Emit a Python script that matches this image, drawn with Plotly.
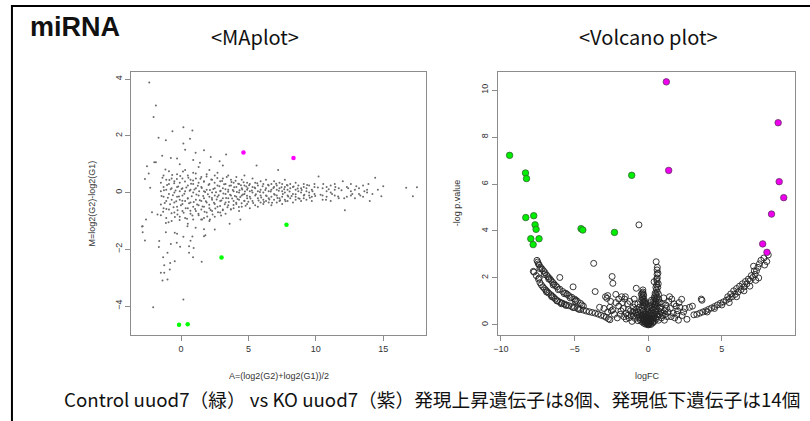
import plotly.graph_objects as go

# ---------------- MA plot data ----------------
ma_sparse = [(-2.36, 3.88), (-1.87, 3.07), (-2.04, 2.66), (-1.67, 1.93), (-0.64, 2.16), (0.17, 2.3),
             (0.84, 2.19), (-1.13, 1.84), (0.17, 1.73), (0.66, 1.9), (1.7, 1.49), (3.34, 1.34),
             (2.86, 1.1), (1.08, 1.4), (0.3, 1.51), (-0.76, 1.22), (-1.99, 1.07), (-1.87, 1.07),
             (-2.53, 0.93), (-2.68, 0.48), (-2.29, 0.17), (-2.4, 0.67), (-0.3, 1.2), (0.9, 1.15),
             (-1.4, 1.3), (2.2, 1.25), (1.4, 1.05), (-0.1, 1.0), (5.6, 0.95), (7.2, 0.8),
             (-2.85, -1.19), (-2.68, -1.69), (-2.85, -1.4), (-1.62, -1.71), (-1.65, -1.92), (-1.01, -2.12),
             (-1.33, -2.28), (-0.81, -2.48), (-0.47, -2.42), (-1.25, -2.56), (-1.5, -2.83), (-1.25, -2.83),
             (-0.84, -2.71), (-1.01, -3.06), (-1.38, -3.1), (0.17, -3.77), (-2.07, -4.04), (0.89, -2.28),
             (1.53, -2.44), (0.59, -2.12), (0.59, -1.89), (0.93, -1.95), (-0.07, -1.91), (-0.32, -1.77),
             (-0.76, -1.81), (0.7, -1.7), (1.7, -1.54), (1.8, -1.5), (-0.47, -1.42), (-0.3, -1.45),
             (0.17, -1.56), (0.84, -1.55), (-1.13, -1.4), (-1.13, -1.07), (0.47, -1.19), (1.08, -1.24),
             (1.7, -1.29), (2.14, -0.95), (2.97, -0.81), (1.56, -0.95), (-0.27, -0.77), (-1.75, -0.77),
             (-2.16, -0.69), (-2.6, -0.95), (-2.9, -1.2), (3.6, -1.1), (2.5, -1.3), (4.4, -0.95),
             (12.15, -0.62), (14.0, -0.3), (14.86, -0.13), (15.0, 0.22), (16.7, 0.17), (17.2, -0.13),
             (17.5, 0.19), (14.4, 0.52), (10.2, 0.57), (12.0, 0.4)]

ma_band = [(-1.5, [0.35, -0.42, 0.05, -0.8]), (-1.3, [0.6, -0.15, -0.55, 0.2]),
           (-1.1, [-0.9, 0.1, 0.45, -0.3]), (-0.9, [0.75, -0.6, -0.05, 0.3]),
           (-0.7, [-0.25, 0.5, -1.0, 0.15]), (-0.5, [0.0, -0.7, 0.4, -0.35]),
           (-0.3, [0.65, -0.15, -0.5, 0.2]), (-0.1, [-0.85, 0.35, -0.25, 0.05]),
           (0.1, [0.5, -0.4, 0.15, -0.65, -0.1]), (0.3, [-0.3, 0.8, -0.9, 0.05]),
           (0.5, [0.25, -0.55, -0.2, 0.6, -1.1]), (0.7, [-0.75, 0.1, 0.45, -0.35]),
           (0.9, [0.0, -0.5, 0.7, -0.95, 0.3]), (1.1, [-0.25, 0.5, -0.65, 0.15]),
           (1.3, [0.35, -0.8, -0.1, 0.9, -0.45]), (1.5, [-0.3, 0.2, -0.6, 0.55]),
           (1.7, [0.05, -0.9, 0.4, -0.2, -0.5]), (1.9, [0.65, -0.35, 0.1, -0.7]),
           (2.1, [-0.15, 0.3, -0.55, 0.8, -1.0]), (2.3, [0.45, -0.25, 0.0, -0.65]),
           (2.5, [-0.4, 0.15, 0.6, -0.85, -0.1]), (2.7, [0.25, -0.5, -0.15, 0.7]),
           (2.9, [-0.7, 0.05, 0.4, -0.3]), (3.1, [0.5, -0.2, -0.6, 0.15, 0.95]),
           (3.3, [-0.35, 0.3, -0.05, -0.75]), (3.5, [0.1, -0.45, 0.6, -0.2]),
           (3.7, [-0.6, 0.25, -0.1, 0.45]), (3.9, [0.35, -0.3, 0.05, -0.55]),
           (4.1, [-0.15, 0.55, -0.4, 0.2]), (4.3, [0.0, -0.65, 0.3, -0.25]),
           (4.5, [0.45, -0.1, -0.5, 0.15]), (4.7, [-0.3, 0.25, 0.6, -0.05]),
           (4.9, [0.1, -0.4, 0.35, -0.2]), (5.1, [-0.55, 0.05, 0.3, -0.15]),
           (5.3, [0.2, -0.3, 0.5, 0.0]), (5.5, [-0.1, 0.35, -0.45, 0.15]),
           (5.7, [0.25, -0.2, 0.05, -0.5]), (5.9, [-0.35, 0.4, 0.1, -0.1]),
           (6.1, [0.0, -0.25, 0.3, -0.4]), (6.3, [0.15, -0.1, 0.45, -0.3]),
           (6.5, [-0.2, 0.25, -0.35, 0.05]), (6.7, [0.3, -0.15, 0.1, -0.45]),
           (6.9, [-0.05, 0.2, -0.25, 0.4]), (7.1, [0.1, -0.35, 0.25, -0.1]),
           (7.3, [-0.2, 0.15, 0.35, -0.3]), (7.5, [0.05, -0.15, 0.3, -0.4]),
           (7.7, [0.2, -0.25, 0.0, 0.45]), (7.9, [-0.1, 0.25, -0.3, 0.1]),
           (8.1, [0.15, -0.2, 0.3]), (8.3, [-0.05, 0.2, -0.35]), (8.5, [0.1, -0.15, 0.35, -0.25]),
           (8.7, [-0.2, 0.05, 0.25]), (8.9, [0.15, -0.3, 0.0]), (9.1, [-0.1, 0.2, -0.2, 0.3]),
           (9.3, [0.05, -0.25, 0.15]), (9.5, [0.25, -0.1, 0.0]), (9.7, [-0.15, 0.1, -0.3]),
           (9.9, [0.2, -0.05, 0.3]), (10.5, [-0.1, 0.15, -0.25]), (10.8, [0.2, -0.15, 0.05]),
           (11.1, [0.0, -0.3, 0.25]), (11.4, [0.1, -0.1, 0.3]), (11.7, [-0.2, 0.15]),
           (12.3, [0.2, -0.15]), (12.6, [0.05, 0.3, -0.1]), (12.9, [-0.2, 0.1]),
           (13.2, [0.15, -0.05]), (13.5, [0.25, -0.15]), (13.8, [0.0, 0.1])]

ma_extra = [(-1.45, -0.12), (-1.38, 0.52), (-1.33, -0.68), (-1.27, 0.08), (-1.21, -0.37), (-1.16, 0.81),
            (-1.09, -0.58), (-1.04, 0.27), (-0.98, -0.18), (-0.93, -1.05), (-0.87, 0.44), (-0.82, -0.41),
            (-0.77, 0.12), (-0.71, -0.73), (-0.66, 0.62), (-0.61, -0.09), (-0.56, -0.52), (-0.51, 0.33),
            (-0.46, -0.86), (-0.41, 0.07), (-0.36, -0.31), (-0.31, 0.48), (-0.26, -0.62), (-0.21, 0.21),
            (-0.16, -0.14), (-0.11, -0.97), (-0.06, 0.58), (-0.01, -0.45), (0.04, 0.13), (0.09, -0.29),
            (0.14, 0.74), (0.19, -0.71), (0.24, -0.04), (0.29, 0.39), (0.34, -0.55), (0.39, 0.18),
            (0.44, -0.92), (0.49, -0.21), (0.54, 0.52), (0.59, -0.38), (0.64, 0.06), (0.69, -0.64),
            (0.74, 0.31), (0.79, -0.13), (0.84, -0.81), (0.89, 0.43), (0.94, -0.33), (0.99, 0.11),
            (1.04, -0.58), (1.09, 0.67), (1.14, -0.07), (1.19, -0.42), (1.24, 0.24), (1.29, -0.75),
            (1.34, 0.05), (1.39, -0.27), (1.44, 0.49), (1.49, -0.95),
            (1.54, 0.16), (1.59, -0.49), (1.64, -0.12), (1.69, 0.38), (1.74, -0.68), (1.79, 0.02),
            (1.84, -0.31), (1.89, 0.57), (1.94, -0.84), (1.99, -0.06), (2.04, 0.27), (2.09, -0.43),
            (2.14, 0.09), (2.19, -0.61), (2.24, 0.46), (2.29, -0.19), (2.34, -0.77), (2.39, 0.13),
            (2.44, -0.36), (2.49, 0.35), (2.54, -0.56), (2.59, 0.01), (2.64, -0.24), (2.69, 0.51),
            (2.74, -0.69), (2.79, -0.09), (2.84, 0.22), (2.89, -0.47), (2.94, 0.06), (2.99, -0.28),
            (3.04, 0.41), (3.09, -0.62), (3.14, -0.03), (3.19, 0.29), (3.24, -0.41), (3.29, 0.12),
            (3.34, -0.19), (3.39, 0.55), (3.44, -0.52), (3.49, 0.03), (3.54, -0.33), (3.59, 0.24),
            (3.64, -0.08), (3.69, -0.59), (3.74, 0.37), (3.79, -0.21), (3.84, 0.09), (3.89, -0.44),
            (3.94, 0.19), (3.99, -0.12), (4.04, 0.42), (4.09, -0.36), (4.14, 0.02), (4.19, -0.23),
            (4.24, 0.31), (4.29, -0.51), (4.34, 0.08), (4.39, -0.16), (4.44, 0.26), (4.49, -0.38),
            (4.54, 0.11), (4.59, -0.07), (4.64, 0.36), (4.69, -0.29), (4.74, 0.04), (4.79, -0.46),
            (4.84, 0.21), (4.89, -0.11), (4.94, 0.15), (4.99, -0.32),
            (5.05, 0.26), (5.15, -0.21), (5.25, 0.07), (5.35, -0.37), (5.45, 0.18), (5.55, -0.06),
            (5.65, 0.33), (5.75, -0.28), (5.85, 0.02), (5.95, -0.17), (6.05, 0.22), (6.15, -0.33),
            (6.25, 0.09), (6.35, -0.12), (6.45, 0.28), (6.55, -0.24), (6.65, 0.04), (6.75, -0.36),
            (6.85, 0.16), (6.95, -0.08), (7.05, 0.31), (7.15, -0.19), (7.25, 0.06), (7.35, -0.27),
            (7.45, 0.19), (7.55, -0.05), (7.65, 0.12), (7.75, -0.31), (7.85, 0.27), (7.95, -0.14),
            (8.05, 0.04), (8.2, -0.12), (8.35, 0.21), (8.5, -0.06), (8.65, 0.14), (8.8, -0.22),
            (8.95, 0.09), (9.15, -0.08), (9.35, 0.27), (9.55, -0.18), (9.75, 0.05), (9.95, -0.12),
            (10.15, 0.18), (10.35, -0.08), (10.55, 0.3), (10.75, -0.25), (10.95, 0.12), (11.2, -0.05),
            (11.45, 0.2), (11.65, -0.14), (11.9, 0.08), (12.1, -0.2), (12.4, 0.15), (12.7, -0.05),
            (13.0, 0.22), (13.3, -0.1), (13.6, 0.05), (13.9, 0.3), (14.2, -0.05), (14.6, 0.1)]

ma_green = [(-0.15, -4.66), (0.49, -4.64), (3.0, -2.29), (7.82, -1.13)]
ma_magenta = [(4.63, 1.41), (8.34, 1.22)]

# ---------------- Volcano plot data ----------------
vol_left_upper = [(-7.55, 2.75), (-7.5, 2.68), (-7.45, 2.6), (-7.4, 2.55), (-7.3, 2.45), (-7.2, 2.38),
                  (-7.1, 2.3), (-7.0, 2.22), (-6.9, 2.12), (-6.8, 2.05), (-6.7, 1.98), (-6.6, 1.9),
                  (-6.5, 1.82), (-6.4, 1.75), (-6.3, 1.68), (-6.2, 1.62), (-6.0, 1.52), (-5.8, 1.42),
                  (-5.6, 1.35), (-5.5, 1.3), (-5.4, 1.25), (-5.2, 1.18), (-5.0, 1.1), (-4.9, 1.05),
                  (-4.8, 1.0), (-4.6, 0.92), (-4.5, 0.85), (-7.35, 2.4), (-7.05, 2.15), (-6.75, 1.95),
                  (-6.45, 1.7), (-6.1, 1.5), (-5.7, 1.33), (-5.3, 1.15), (-4.95, 1.0), (-4.4, 0.8)]
vol_left_lower = [(-7.8, 2.28), (-7.6, 2.1), (-7.45, 1.95), (-7.35, 1.8), (-7.25, 1.7), (-7.15, 1.62),
                  (-7.05, 1.55), (-6.95, 1.48), (-6.85, 1.42), (-6.75, 1.35), (-6.6, 1.28), (-6.5, 1.22),
                  (-6.4, 1.16), (-6.3, 1.1), (-6.15, 1.03), (-6.0, 0.97), (-5.85, 0.93), (-5.7, 0.89),
                  (-5.55, 0.85), (-5.4, 0.82), (-5.2, 0.78), (-5.0, 0.74), (-4.8, 0.7), (-4.6, 0.66),
                  (-4.4, 0.63), (-4.2, 0.59), (-4.0, 0.56), (-3.8, 0.53), (-3.6, 0.5), (-3.4, 0.46),
                  (-3.2, 0.41), (-3.0, 0.37), (-2.85, 0.32), (-2.7, 0.26), (-2.6, 0.22), (-6.9, 1.4),
                  (-6.55, 1.2), (-6.2, 1.02), (-5.9, 0.9), (-5.6, 0.83), (-5.1, 0.74), (-4.7, 0.66)]
vol_scatter = [(-6.0, 2.02), (-5.1, 1.62), (-3.7, 2.62), (-3.6, 1.42), (-2.45, 2.06), (-2.4, 1.77),
               (-2.9, 1.2), (-2.8, 1.13), (-2.75, 1.25), (-0.63, 4.26), (-3.0, 0.7), (-2.5, 0.6),
               (-7.75, 2.25), (-7.4, 2.0), (3.6, 1.1), (3.65, 1.05), (2.63, 0.24), (3.0, 0.8),
               (2.8, 0.75), (2.27, 1.09)]
vol_center = [(0, 0), (0.05, 0.02), (-0.05, 0.03), (0.1, 0.05), (-0.1, 0.06), (0.15, 0.1), (-0.15, 0.08),
              (0.2, 0.14), (-0.2, 0.12), (0.25, 0.2), (-0.25, 0.18), (0.3, 0.25), (-0.3, 0.22), (0.35, 0.3),
              (-0.35, 0.28), (0.4, 0.38), (-0.4, 0.34), (0.45, 0.45), (-0.45, 0.4), (0.5, 0.55),
              (-0.5, 0.48), (0.0, 0.15), (0.05, 0.25), (-0.05, 0.3), (0.1, 0.35), (-0.1, 0.4),
              (0.15, 0.5), (-0.15, 0.45), (0.2, 0.6), (-0.2, 0.55), (0.0, 0.1), (0.08, 0.18),
              (-0.08, 0.2), (0.12, 0.28), (-0.12, 0.25), (0.25, 0.4), (-0.25, 0.38), (0.3, 0.5),
              (-0.3, 0.45), (0.35, 0.65), (-0.35, 0.6), (0.4, 0.75), (-0.4, 0.7), (0.45, 0.85),
              (-0.38, 0.85), (0.55, 0.7), (-0.55, 0.62), (0.6, 0.8), (-0.6, 0.75), (0.18, 0.02),
              (-0.18, 0.03), (0.3, 0.08), (-0.3, 0.07), (0.42, 0.15), (-0.42, 0.13), (0.55, 0.25),
              (-0.55, 0.22), (0.65, 0.35), (-0.65, 0.32), (0.75, 0.45), (-0.75, 0.42), (0.85, 0.55),
              (-0.85, 0.5), (0.7, 0.2), (-0.7, 0.18), (0.9, 0.3), (-0.9, 0.28), (1.0, 0.4), (-1.0, 0.38),
              (0.5, 1.0), (0.55, 1.1), (0.6, 1.2), (0.52, 1.3), (0.62, 1.4), (0.56, 1.5), (0.65, 1.6),
              (0.58, 1.7), (0.6, 1.85), (0.4, 1.84), (0.62, 2.0), (0.6, 2.15), (0.6, 2.34), (0.54, 2.69),
              (0.7, 1.3), (0.72, 1.1), (0.68, 0.95), (0.45, 1.15), (0.5, 0.9),
              (-0.35, 1.0), (-0.3, 1.1), (-0.38, 1.2), (-0.33, 1.3), (-0.36, 1.4), (-0.36, 1.49),
              (-0.45, 1.05), (-0.25, 0.95), (-0.81, 1.56),
              (-1.2, 0.6), (-1.4, 0.9), (-1.6, 1.1), (-1.8, 1.2), (-2.0, 0.8), (-1.5, 0.5), (-1.3, 0.3),
              (-1.1, 0.15), (-1.7, 0.7), (-2.2, 0.95), (-2.4, 0.65), (-2.6, 0.75), (-1.9, 0.45),
              (-2.1, 0.3), (-1.0, 0.75), (-1.25, 1.0), (-1.55, 1.2), (-0.95, 1.1), (-1.75, 0.95),
              (1.1, 0.6), (1.2, 0.85), (1.4, 1.0), (1.5, 0.7), (1.3, 0.35), (1.1, 0.2), (1.7, 0.5),
              (1.9, 0.8), (2.0, 0.6), (2.3, 0.4), (1.6, 1.1), (1.8, 0.3), (0.95, 0.9), (1.05, 1.15),
              (2.5, 0.7), (2.1, 0.95), (1.35, 0.55), (0.85, 0.75), (0.8, 0.95), (-0.9, 0.9),
              (-1.05, 0.55), (-0.7, 0.9), (-1.5, 0.25)]
vol_extra = [(0.02, 0.45), (-0.02, 0.55), (0.07, 0.65), (-0.07, 0.7), (0.12, 0.8), (-0.12, 0.85),
             (0.17, 0.95), (-0.17, 0.9), (0.22, 1.05), (-0.22, 1.0), (0.27, 0.75), (-0.27, 0.8),
             (0.32, 0.9), (-0.32, 0.95), (0.37, 1.05), (0.42, 1.2), (0.47, 1.35), (-0.42, 1.15),
             (-0.47, 1.3), (0.03, 0.05), (-0.03, 0.12), (0.22, 0.3), (-0.22, 0.33), (0.33, 0.15),
             (-0.33, 0.16), (0.48, 0.3), (-0.48, 0.28), (0.6, 0.45), (-0.6, 0.42), (0.7, 0.6),
             (-0.7, 0.55), (0.8, 0.7), (-0.8, 0.65), (0.9, 0.5), (-0.95, 0.6), (1.15, 0.45),
             (-1.15, 0.4), (1.25, 0.7), (-1.35, 0.65), (0.62, 2.45), (0.66, 2.2), (0.57, 1.95),
             (0.68, 1.75), (0.52, 1.6), (-0.4, 1.35), (-0.31, 1.25),
             (-2.3, 0.45), (-2.0, 1.1), (-1.85, 0.6), (-2.55, 1.0), (-1.4, 0.4), (-1.65, 0.35),
             (-2.75, 0.55), (-3.3, 0.75), (-2.2, 1.3),
             (1.55, 0.35), (1.95, 0.45), (2.15, 0.75), (2.4, 0.55), (1.45, 1.2), (1.75, 0.9), (2.05, 0.2)]
vol_right = [(3.1, 0.43), (3.3, 0.45), (3.5, 0.5), (3.7, 0.55), (3.9, 0.6), (4.1, 0.66), (4.3, 0.72),
             (4.5, 0.78), (4.7, 0.85), (4.9, 0.92), (5.1, 0.98), (5.3, 1.05), (5.5, 1.12), (5.7, 1.2),
             (5.9, 1.3), (6.1, 1.4), (6.3, 1.5), (6.5, 1.62), (6.7, 1.75), (6.9, 1.88), (7.1, 2.02),
             (7.25, 2.15), (7.35, 2.3), (7.45, 2.45), (7.55, 2.6), (7.65, 2.75), (7.85, 2.85),
             (8.05, 2.7), (8.15, 2.98), (7.9, 2.55), (5.4, 1.2), (5.6, 1.32), (5.8, 1.45), (6.0, 1.55),
             (6.2, 1.65), (6.4, 1.75), (6.6, 1.85), (6.8, 1.95), (7.0, 2.1), (7.2, 2.3), (6.5, 1.45),
             (6.0, 1.2), (5.5, 0.95), (5.0, 0.85), (4.5, 0.7), (4.0, 0.55), (6.9, 1.65), (7.3, 1.9),
             (7.15, 2.5), (7.5, 2.0)]
vol_green = [(-9.41, 7.22), (-8.33, 6.47), (-8.26, 6.23), (-1.12, 6.37), (-8.31, 4.57), (-7.77, 4.65),
             (-7.68, 4.26), (-7.61, 4.07), (-7.97, 3.67), (-7.81, 3.42), (-7.41, 3.67), (-4.56, 4.10),
             (-4.44, 4.04), (-2.29, 3.94)]
vol_magenta = [(1.23, 10.35), (1.39, 6.58), (8.82, 8.61), (8.89, 6.10), (9.20, 5.42), (8.37, 4.72),
               (7.77, 3.45), (8.06, 3.09)]

title_main = "miRNA"
title_ma = "&lt;MAplot&gt;"
title_vol = "&lt;Volcano plot&gt;"
caption = "Control uuod7（緑） vs KO uuod7（紫）発現上昇遺伝子は8個、発現低下遺伝子は14個"
ma_xlabel = "A=(log2(G2)+log2(G1))/2"
ma_ylabel = "M=log2(G2)-log2(G1)"
vol_xlabel = "logFC"
vol_ylabel = "-log p.value"

W, H = 810, 421

ma_x = [p[0] for p in ma_sparse + ma_extra]
ma_y = [p[1] for p in ma_sparse + ma_extra]
for a, ms in ma_band:
    for m in ms:
        ma_x.append(a)
        ma_y.append(m)

vol_gray = vol_left_upper + vol_left_lower + vol_scatter + vol_center + vol_extra + vol_right

fig = go.Figure()
fig.add_trace(go.Scatter(x=ma_x, y=ma_y, mode="markers", xaxis="x", yaxis="y",
                         marker=dict(size=2, color="#6a6a6a"), showlegend=False))
fig.add_trace(go.Scatter(x=[p[0] for p in ma_green], y=[p[1] for p in ma_green], mode="markers",
                         xaxis="x", yaxis="y", marker=dict(size=4.5, color="#00ff00"), showlegend=False))
fig.add_trace(go.Scatter(x=[p[0] for p in ma_magenta], y=[p[1] for p in ma_magenta], mode="markers",
                         xaxis="x", yaxis="y", marker=dict(size=4.5, color="#ff00ff"), showlegend=False))

fig.add_trace(go.Scatter(x=[p[0] for p in vol_gray], y=[p[1] for p in vol_gray], mode="markers",
                         xaxis="x2", yaxis="y2",
                         marker=dict(size=6, symbol="circle-open", color="#222222", line=dict(width=0.9)),
                         showlegend=False))
fig.add_trace(go.Scatter(x=[p[0] for p in vol_green], y=[p[1] for p in vol_green], mode="markers",
                         xaxis="x2", yaxis="y2",
                         marker=dict(size=6.5, color="#00ee00", line=dict(width=0.8, color="#336633")),
                         showlegend=False))
fig.add_trace(go.Scatter(x=[p[0] for p in vol_magenta], y=[p[1] for p in vol_magenta], mode="markers",
                         xaxis="x2", yaxis="y2",
                         marker=dict(size=6.5, color="#ee00ee", line=dict(width=0.8, color="#663366")),
                         showlegend=False))

ytop, ybot = 1 - 72 / H, 1 - 335 / H
axis_common = dict(showgrid=False, zeroline=False, showline=True, mirror=True, linecolor="#8c8c8c",
                   linewidth=1, ticks="outside", ticklen=5, tickcolor="#8c8c8c",
                   tickfont=dict(family="Liberation Sans, Arial", size=9, color="#333333"))

fig.update_layout(
    width=W, height=H, margin=dict(l=0, r=0, t=0, b=0),
    paper_bgcolor="white", plot_bgcolor="white",
    xaxis=dict(domain=[127 / W, 424 / W], range=[-3.7, 18.2], tickvals=[0, 5, 10, 15],
               anchor="y", **axis_common),
    yaxis=dict(domain=[ybot, ytop], range=[-5.02, 4.25], tickvals=[-4, -2, 0, 2, 4],
               tickangle=-90, anchor="x", **axis_common),
    xaxis2=dict(domain=[496 / W, 795 / W], range=[-10.2, 9.97], tickvals=[-10, -5, 0, 5],
                anchor="y2", **axis_common),
    yaxis2=dict(domain=[ybot, ytop], range=[-0.43, 10.77], tickvals=[0, 2, 4, 6, 8, 10],
                tickangle=-90, anchor="x2", **axis_common),
)

def ann(text, x, y, size, family="Noto Sans CJK JP", color="#111111", angle=0, bold=False):
    fig.add_annotation(text=("<b>%s</b>" % text) if bold else text, x=x / W, y=1 - y / H,
                       xref="paper", yref="paper", showarrow=False, textangle=angle,
                       xanchor="center", yanchor="middle",
                       font=dict(family=family, size=size, color=color))

ann(title_main, 70, 27, 27, family="Liberation Sans, Arial", bold=True)
ann(title_ma, 252, 37, 20)
ann(title_vol, 647, 37, 20)
ann(caption, 430, 398, 18.7)
ann(ma_xlabel, 276, 376, 9, family="Liberation Sans, Arial", color="#333333")
ann(ma_ylabel, 88, 203, 9, family="Liberation Sans, Arial", color="#333333", angle=-90)
ann(vol_xlabel, 646, 376, 9, family="Liberation Sans, Arial", color="#333333")
ann(vol_ylabel, 455, 203, 9, family="Liberation Sans, Arial", color="#333333", angle=-90)

fig.add_shape(type="line", xref="paper", yref="paper", x0=7 / W, x1=7 / W, y0=0, y1=1 - 5 / H,
              line=dict(color="black", width=2))
fig.add_shape(type="line", xref="paper", yref="paper", x0=6 / W, x1=1, y0=1 - 6 / H, y1=1 - 6 / H,
              line=dict(color="black", width=2))

fig.write_html("out.html", config={"displayModeBar": False},
               post_script="document.body.style.margin='0';document.body.style.overflow='hidden';")
